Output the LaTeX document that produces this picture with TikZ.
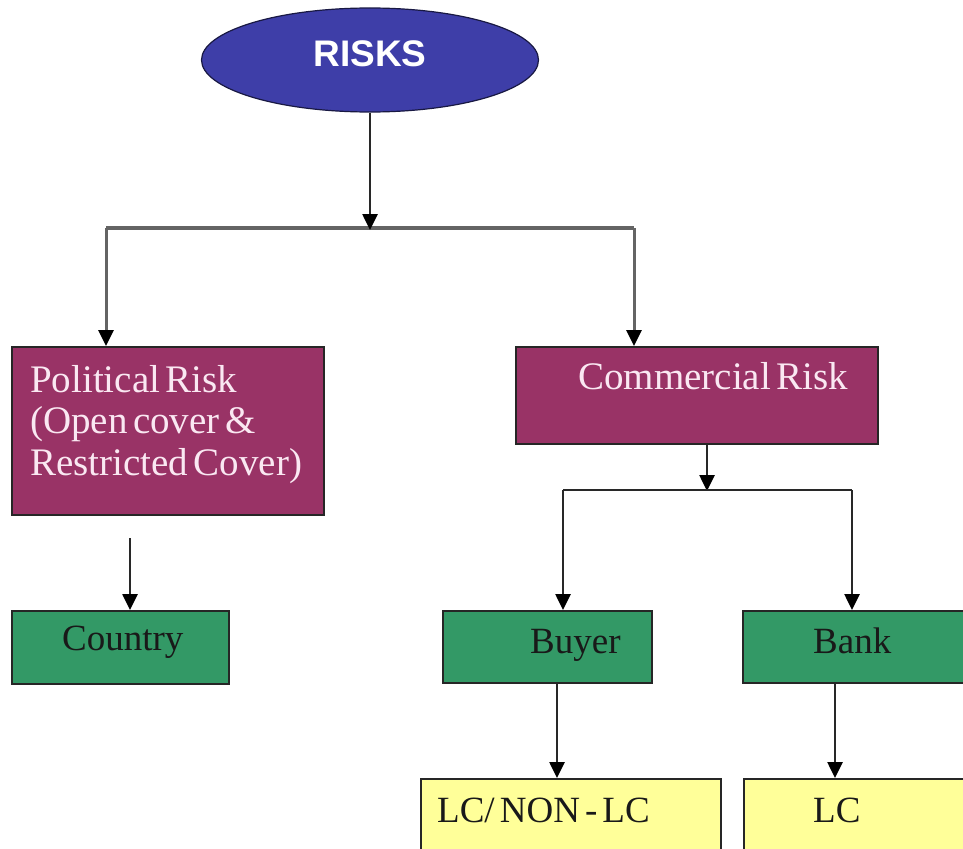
\documentclass[tikz,border=0pt]{standalone}
\usepackage{fontspec}
\setmainfont{Liberation Serif}[WordSpace=0.55]
\newfontfamily\headfont{Liberation Sans}
\usetikzlibrary{arrows.meta,shapes.geometric}
\definecolor{riskblue}{RGB}{62,62,168}
\definecolor{wine}{RGB}{153,51,102}
\definecolor{leaf}{RGB}{51,153,102}
\definecolor{pale}{RGB}{255,255,153}
\definecolor{wire}{RGB}{40,40,40}
\definecolor{rail}{RGB}{100,100,100}
\definecolor{blush}{RGB}{250,232,242}

\begin{document}
\begin{tikzpicture}[x=1pt,y=-1pt,
  box/.style={draw=black!85, line width=1.6pt, anchor=north west, inner sep=0pt},
  wbox/.style={box, fill=wine},
  gbox/.style={box, fill=leaf},
  ybox/.style={box, fill=pale},
  lbl/.style={font=\fontsize{37}{42}\selectfont, anchor=base west, inner sep=0pt, text=black!90},
  light/.style={lbl, font=\fontsize{39}{44}\selectfont, text=blush},
  link/.style={draw=wire, line width=2.6pt},
  arr/.style={link, -{Triangle[width=15pt,length=16pt,color=black]}},
  railarr/.style={arr, draw=rail, line width=3pt},
]
\useasboundingbox (0,0) rectangle (963,848);
\clip (0,0) rectangle (963,848);

% top node
\node[ellipse, draw=black!60!riskblue, line width=1.2pt, fill=riskblue,
      minimum width=337pt, minimum height=104pt, inner sep=0pt] (risks) at (370,60) {};
\node[font=\headfont\bfseries\fontsize{37}{42}\selectfont, text=white,
      anchor=base, inner sep=0pt] (risks-t) at (370,67) {RISKS};

% boxes
\node[wbox, minimum width=312pt, minimum height=168pt] (pol) at (11,346) {};
\node[wbox, minimum width=362pt, minimum height=97pt]  (com) at (515,346) {};
\node[gbox, minimum width=217pt, minimum height=73pt]  (cty) at (11,610) {};
\node[gbox, minimum width=209pt, minimum height=72pt]  (buy) at (442,610) {};
\node[gbox, minimum width=240pt, minimum height=72pt]  (bnk) at (742,610) {};
\node[ybox, minimum width=300pt, minimum height=100pt] (lcn) at (420,778) {};
\node[ybox, minimum width=240pt, minimum height=100pt] (lc)  at (743,778) {};

% labels
\node[light] (pol-1) at (30,392) {Political Risk};
\node[light] (pol-2) at (30,433) {(Open cover \&};
\node[light] (pol-3) at (30,475) {Restricted Cover)};
\node[light] (com-t) at (578,389) {Commercial Risk};
\node[lbl]   (cty-t) at (62,650) {Country};
\node[lbl]   (buy-t) at (530,653) {Buyer};
\node[lbl]   (bnk-t) at (813,653) {Bank};
\node[lbl]   (lcn-t) at (437,822) {LC/ NON - LC};
\node[lbl]   (lc-t)  at (813,822) {LC};

% branch points
\coordinate (fork)   at (370,230);
\coordinate (forkL)  at (106,228);
\coordinate (forkR)  at (634,228);
\coordinate (cfork)  at (707,491);
\coordinate (cforkL) at (563,490);
\coordinate (cforkR) at (852,490);
\coordinate (ctop)   at (130,538);
\coordinate (bx)     at (557,700);
\coordinate (kx)     at (835,700);

% connectors
\draw[link, draw=rail, line width=3.2pt] (forkL) -- (forkR);
\draw[arr] (risks.south) -- (fork);
\draw[railarr] (forkL) -- (forkL |- pol.north);
\draw[railarr] (forkR) -- (forkR |- com.north);
\draw[arr] (cfork |- com.south) -- (cfork);
\draw[link] (cforkL) -- (cforkR);
\draw[arr] (cforkL) -- (cforkL |- buy.north);
\draw[arr] (cforkR) -- (cforkR |- bnk.north);
\draw[arr] (ctop) -- (ctop |- cty.north);
\draw[arr] (bx |- buy.south) -- (bx |- lcn.north);
\draw[arr] (kx |- bnk.south) -- (kx |- lc.north);
\end{tikzpicture}
\end{document}
